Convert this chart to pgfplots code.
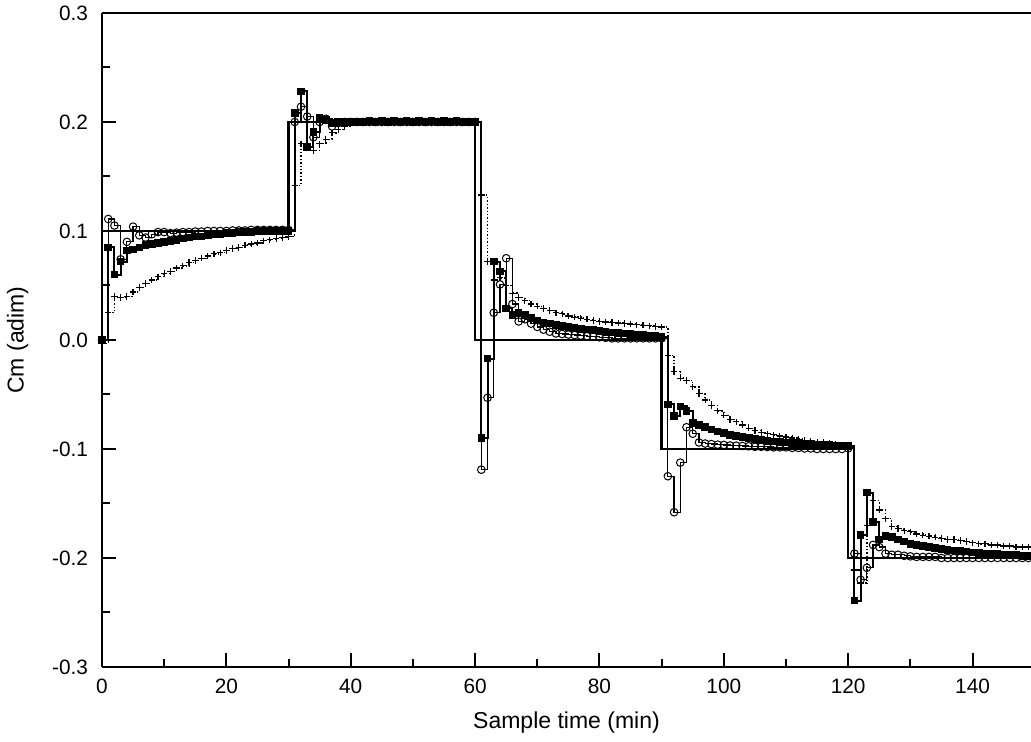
\documentclass[border=0pt]{standalone}
\usepackage{fontspec}
\setmainfont{Liberation Sans}
\usepackage{pgfplots}
\usepackage{pgfplotstable}
\pgfplotsset{compat=1.18}

% columns: sample time, filled squares, open circles, plus (dotted)
\pgfplotstableread{
t    sq       ci       pl
0    0.000    0.000    -0.003
1    0.085    0.111    0.025
2    0.060    0.105    0.040
3    0.072    0.074    0.039
4    0.082    0.090    0.040
5    0.083    0.104    0.044
6    0.085    0.096    0.048
7    0.087    0.094    0.052
8    0.088    0.097    0.055
9    0.089    0.099    0.058
10   0.090    0.099    0.061
11   0.091    0.098    0.063
12   0.092    0.0985   0.066
13   0.093    0.099    0.068
14   0.094    0.099    0.071
15   0.095    0.0995   0.073
16   0.095    0.0995   0.075
17   0.096    0.100    0.077
18   0.097    0.100    0.079
19   0.097    0.100    0.080
20   0.098    0.100    0.082
21   0.098    0.1005   0.084
22   0.099    0.1005   0.085
23   0.099    0.1005   0.087
24   0.099    0.101    0.088
25   0.100    0.101    0.089
26   0.100    0.101    0.091
27   0.100    0.101    0.092
28   0.100    0.101    0.093
29   0.100    0.101    0.094
30   0.100    0.101    0.095
31   0.208    0.200    0.142
32   0.228    0.214    0.180
33   0.177    0.205    0.178
34   0.191    0.186    0.174
35   0.204    0.200    0.180
36   0.202    0.203    0.184
37   0.199    0.196    0.190
38   0.200    0.199    0.193
39   0.200    0.200    0.196
40   0.200    0.200    0.198
41   0.200    0.200    0.199
42   0.200    0.200    0.200
43   0.201    0.200    0.200
44   0.200    0.200    0.200
45   0.201    0.200    0.200
46   0.200    0.200    0.200
47   0.201    0.200    0.200
48   0.200    0.200    0.200
49   0.201    0.200    0.200
50   0.200    0.200    0.200
51   0.201    0.200    0.200
52   0.200    0.200    0.200
53   0.201    0.200    0.200
54   0.200    0.200    0.200
55   0.201    0.200    0.200
56   0.200    0.200    0.200
57   0.201    0.200    0.200
58   0.200    0.200    0.200
59   0.200    0.200    0.200
60   0.200    0.200    0.200
61   -0.090   -0.119   0.133
62   -0.017   -0.053   0.072
63   0.072    0.025    0.055
64   0.063    0.051    0.057
65   0.029    0.075    0.050
66   0.023    0.033    0.043
67   0.025    0.017    0.039
68   0.023    0.019    0.036
69   0.020    0.015    0.033
70   0.018    0.012    0.031
71   0.016    0.0095   0.029
72   0.015    0.0076   0.027
73   0.014    0.006    0.025
74   0.013    0.0055   0.024
75   0.012    0.005    0.022
76   0.011    0.0045   0.021
77   0.010    0.004    0.020
78   0.0095   0.0035   0.019
79   0.009    0.003    0.018
80   0.008    0.0025   0.017
81   0.0075   0.002    0.0165
82   0.007    0.0015   0.016
83   0.0065   0.0015   0.0155
84   0.006    0.0015   0.015
85   0.0055   0.0015   0.0145
86   0.005    0.0015   0.014
87   0.0045   0.0015   0.0135
88   0.004    0.0015   0.013
89   0.0035   0.0015   0.0125
90   0.003    0.0015   0.012
91   -0.059   -0.125   -0.014
92   -0.070   -0.158   -0.029
93   -0.061   -0.1125  -0.035
94   -0.065   -0.080   -0.037
95   -0.076   -0.086   -0.043
96   -0.078   -0.094   -0.049
97   -0.080   -0.095   -0.055
98   -0.082   -0.0955  -0.060
99   -0.084   -0.096   -0.065
100  -0.0856  -0.0963  -0.069
101  -0.087   -0.0968  -0.073
102  -0.088   -0.097   -0.075
103  -0.089   -0.0972  -0.078
104  -0.090   -0.0975  -0.081
105  -0.091   -0.098   -0.083
106  -0.092   -0.098   -0.085
107  -0.0925  -0.0982  -0.086
108  -0.093   -0.0985  -0.087
109  -0.0935  -0.0985  -0.088
110  -0.094   -0.0985  -0.089
111  -0.0945  -0.099   -0.090
112  -0.095   -0.099   -0.091
113  -0.0952  -0.0995  -0.092
114  -0.0955  -0.0995  -0.093
115  -0.096   -0.100   -0.094
116  -0.0962  -0.100   -0.094
117  -0.0965  -0.100   -0.095
118  -0.0967  -0.100   -0.096
119  -0.097   -0.100   -0.097
120  -0.0972  -0.0994  -0.098
121  -0.239   -0.196   -0.211
122  -0.179   -0.220   -0.223
123  -0.140   -0.209   -0.170
124  -0.167   -0.188   -0.147
125  -0.183   -0.190   -0.156
126  -0.180   -0.196   -0.164
127  -0.181   -0.197   -0.171
128  -0.183   -0.197   -0.173
129  -0.185   -0.198   -0.175
130  -0.187   -0.1985  -0.176
131  -0.188   -0.199   -0.178
132  -0.189   -0.199   -0.179
133  -0.190   -0.199   -0.180
134  -0.191   -0.199   -0.181
135  -0.192   -0.200   -0.182
136  -0.1925  -0.200   -0.183
137  -0.193   -0.200   -0.183
138  -0.1935  -0.200   -0.184
139  -0.194   -0.200   -0.185
140  -0.195   -0.200   -0.186
141  -0.1955  -0.200   -0.187
142  -0.196   -0.200   -0.187
143  -0.196   -0.200   -0.188
144  -0.1965  -0.200   -0.188
145  -0.197   -0.200   -0.189
146  -0.197   -0.200   -0.189
147  -0.1975  -0.200   -0.190
148  -0.198   -0.200   -0.190
149  -0.198   -0.200   -0.190
150  -0.198   -0.200   -0.190
}\resp

\begin{document}
\begin{tikzpicture}
\begin{axis}[
  scale only axis, width=464.5pt, height=327pt,
  xmin=0, xmax=149.4, ymin=-0.3, ymax=0.3,
  axis x line*=box, axis y line*=left,
  xtick pos=bottom, ytick pos=left,
  xtick={0,20,...,140}, ytick={-0.3,-0.2,...,0.31},
  minor x tick num=1, minor y tick num=1,
  major tick length=7pt, minor tick length=4pt,
  every tick/.style={black, line width=1pt},
  axis line style={line width=1.2pt},
  /pgf/number format/assume math mode=true,
  yticklabel style={/pgf/number format/fixed, /pgf/number format/fixed zerofill,
     /pgf/number format/precision=1, xshift=-3.5pt},
  xticklabel style={yshift=-2.5pt},
  tick label style={font=\fontsize{10.4}{12}\selectfont},
  label style={font=\fontsize{11.5}{13}\selectfont},
  xlabel={Sample time (min)}, ylabel={Cm (adim)},
  xlabel style={yshift=-2pt}, ylabel style={yshift=5pt},
  clip=true]
% set point
\addplot[const plot, black, line width=1.3pt] coordinates {
  (0,0.1) (30,0.2) (60,0) (90,-0.1) (120,-0.2) (150,-0.2)};
% dotted series with plus marks
\addplot[const plot, black, line width=0.7pt, densely dotted,
  mark=+, mark size=1.6pt, mark options={solid, line width=0.6pt}]
  table[x=t, y=pl] {\resp};
% filled squares
\addplot[const plot, black, line width=1pt,
  mark=square*, mark size=1.4pt, mark options={solid, fill=black}]
  table[x=t, y=sq] {\resp};
% open circles
\addplot[const plot, black, line width=0.6pt,
  mark=o, mark size=1.9pt, mark options={solid, fill=white, line width=0.5pt}]
  table[x=t, y=ci] {\resp};
\end{axis}
\pgfresetboundingbox
\path[use as bounding box] (-51pt,-37.5pt) rectangle (464.5pt,333.5pt);
\end{tikzpicture}
\end{document}
